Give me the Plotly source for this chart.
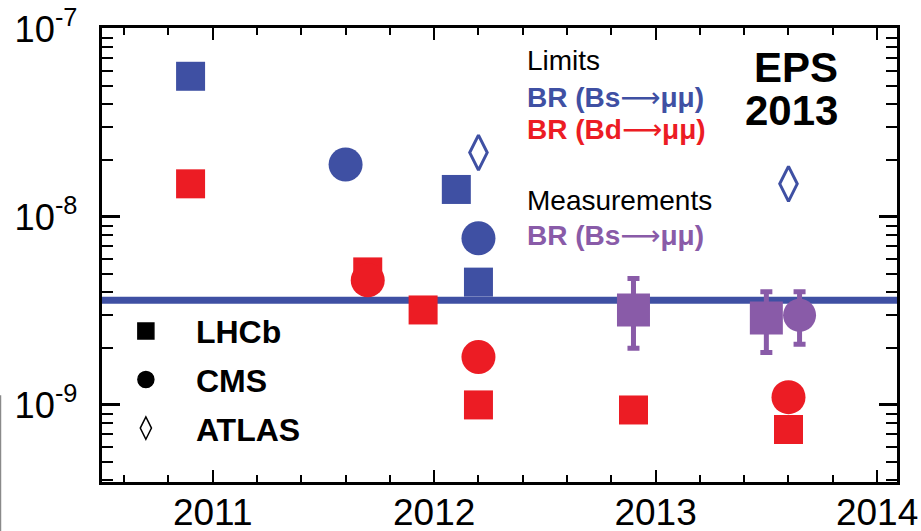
import plotly.graph_objects as go

# ---------------- data ----------------
# B_s -> mu mu upper limits
lhcb_bs_year = [2010.9, 2012.1, 2012.2]
lhcb_bs_lim = [5.6e-8, 1.4e-8, 4.5e-9]
cms_bs_year = [2011.6, 2012.2]
cms_bs_lim = [1.9e-8, 7.7e-9]
atlas_bs_year = [2012.2, 2013.6]
atlas_bs_lim = [2.2e-8, 1.5e-8]

# B_d -> mu mu upper limits
lhcb_bd_year = [2010.9, 2011.7, 2011.95, 2012.2, 2012.9, 2013.6]
lhcb_bd_lim = [1.5e-8, 5.1e-9, 3.2e-9, 1.0e-9, 9.4e-10, 7.4e-10]
cms_bd_year = [2011.7, 2012.2, 2013.6]
cms_bd_lim = [4.6e-9, 1.8e-9, 1.1e-9]

# B_s -> mu mu measurements
lhcb_meas_year = [2012.9, 2013.5]
lhcb_meas = [3.2e-9, 2.9e-9]
lhcb_meas_up = [1.5e-9, 1.1e-9]
lhcb_meas_dn = [1.2e-9, 1.0e-9]
cms_meas_year = [2013.65]
cms_meas = [3.0e-9]
cms_meas_up = [1.0e-9]
cms_meas_dn = [0.9e-9]

sm_prediction = 3.6e-9

first_year = 2011
decade_label_alias = {
    "10<sup>\u22129</sup>": "10<sup>-9</sup>",
    "10<sup>\u22128</sup>": "10<sup>-8</sup>",
    "10<sup>\u22127</sup>": "10<sup>-7</sup>",
}
legend_names = ["LHCb", "CMS", "ATLAS"]
legend_symbols = ["square", "circle", "diamond-tall-open"]

# ---------------- styles ----------------
BLUE = "#3F50A3"
RED = "#EC1C24"
PURPLE = "#895BA8"
FONT = "Liberation Sans"

fig = go.Figure()

def add(x, y, color, symbol, size, err=None, lw=0):
    marker = dict(color=color, symbol=symbol, size=size, line=dict(width=lw, color=color))
    kw = {}
    if err is not None:
        kw["error_y"] = dict(type="data", symmetric=False, array=err[0], arrayminus=err[1],
                             color=color, thickness=5, width=6)
    fig.add_trace(go.Scatter(x=x, y=y, mode="markers", marker=marker,
                             showlegend=False, hoverinfo="skip", **kw))

# Bd limits (red)
add(lhcb_bd_year, lhcb_bd_lim, RED, "square", 29)
add(cms_bd_year, cms_bd_lim, RED, "circle", 34)
# Bs limits (blue)
add(lhcb_bs_year, lhcb_bs_lim, BLUE, "square", 29)
add(cms_bs_year, cms_bs_lim, BLUE, "circle", 34)
add(atlas_bs_year, atlas_bs_lim, BLUE, "diamond-tall-open", 25, lw=3)
# Bs measurements (purple)
add(lhcb_meas_year, lhcb_meas, PURPLE, "square", 33, err=(lhcb_meas_up, lhcb_meas_dn))
add(cms_meas_year, cms_meas, PURPLE, "circle", 33, err=(cms_meas_up, cms_meas_dn))

# legend entries (experiments)
for name, sym in zip(legend_names, legend_symbols):
    fig.add_trace(go.Scatter(x=[None], y=[None], mode="markers", name="<b>" + name + "</b>",
                             legendgroup=name,
                             marker=dict(color="black", symbol=sym, size=16,
                                         line=dict(width=1.5, color="black"))))

# SM prediction line
fig.add_shape(type="line", xref="paper", yref="y", x0=0, x1=1,
              y0=sm_prediction, y1=sm_prediction,
              line=dict(color=BLUE, width=7), layer="below")

# small grey border artifact at left edge
fig.add_shape(type="line", xref="paper", yref="paper", x0=-0.1277, x1=-0.1277,
              y0=0.191, y1=-0.12, line=dict(color="#8a8a8a", width=1.5))

def ann(text, x, y, color="black", size=28, xanchor="left"):
    fig.add_annotation(text=text, x=x, y=y, xref="paper", yref="paper",
                       xanchor=xanchor, yanchor="middle", showarrow=False,
                       font=dict(family=FONT, size=size, color=color))

ARROW = "<span style='font-family:DejaVu Sans;font-weight:normal'>\u27f6</span>"
ann("Limits", 0.532, 0.9295)
ann("<b>BR (Bs" + ARROW + "\u03bc\u03bc)</b>", 0.532, 0.848, BLUE)
ann("<b>BR (Bd" + ARROW + "\u03bc\u03bc)</b>", 0.532, 0.777, RED)
ann("Measurements", 0.532, 0.621)
ann("<b>BR (Bs" + ARROW + "\u03bc\u03bc)</b>", 0.532, 0.544, PURPLE)
ann("<b>EPS</b>", 0.928, 0.914, size=42, xanchor="right")
ann("<b>2013</b>", 0.928, 0.819, size=42, xanchor="right")

fig.update_layout(
    width=921, height=531,
    margin=dict(l=102, r=24, t=28, b=49, autoexpand=False),
    paper_bgcolor="white", plot_bgcolor="white",
    font=dict(family=FONT, color="black"),
    showlegend=True,
    legend=dict(x=-0.0077, y=0.393, xanchor="left", yanchor="top",
                font=dict(family=FONT, size=32, color="black"),
                bgcolor="rgba(0,0,0,0)", itemwidth=90, tracegroupgap=4,
                itemclick=False, itemdoubleclick=False),
)

fig.update_xaxes(
    range=[2010.5, 2014.09], tickmode="linear", tick0=first_year, dtick=1, tickformat="d",
    ticks="inside", ticklen=12, tickwidth=2, tickcolor="black",
    minor=dict(tick0=first_year, dtick=0.2, ticks="inside", ticklen=7, tickwidth=2,
               tickcolor="black", showgrid=False),
    showline=True, linecolor="black", linewidth=2.5, mirror="ticks",
    showgrid=False, zeroline=False, automargin=False,
    tickfont=dict(family=FONT, size=37, color="black"),
    ticklabelstandoff=-4, ticklabeloverflow="allow",
)
fig.update_yaxes(
    type="log", range=[-9.41, -6.995], tickmode="linear", dtick=1,
    exponentformat="power", showexponent="all", labelalias=decade_label_alias,
    ticks="inside", ticklen=18, tickwidth=2.5, tickcolor="black",
    minor=dict(dtick="D1", ticks="inside", ticklen=11, tickwidth=2, tickcolor="black", showgrid=False),
    showline=True, linecolor="black", linewidth=2.5, mirror="ticks",
    showgrid=False, zeroline=False, automargin=False,
    tickfont=dict(family=FONT, size=29, color="black"),
    ticklabelstandoff=16, ticklabeloverflow="allow",
)

fig.write_html("out.html")
